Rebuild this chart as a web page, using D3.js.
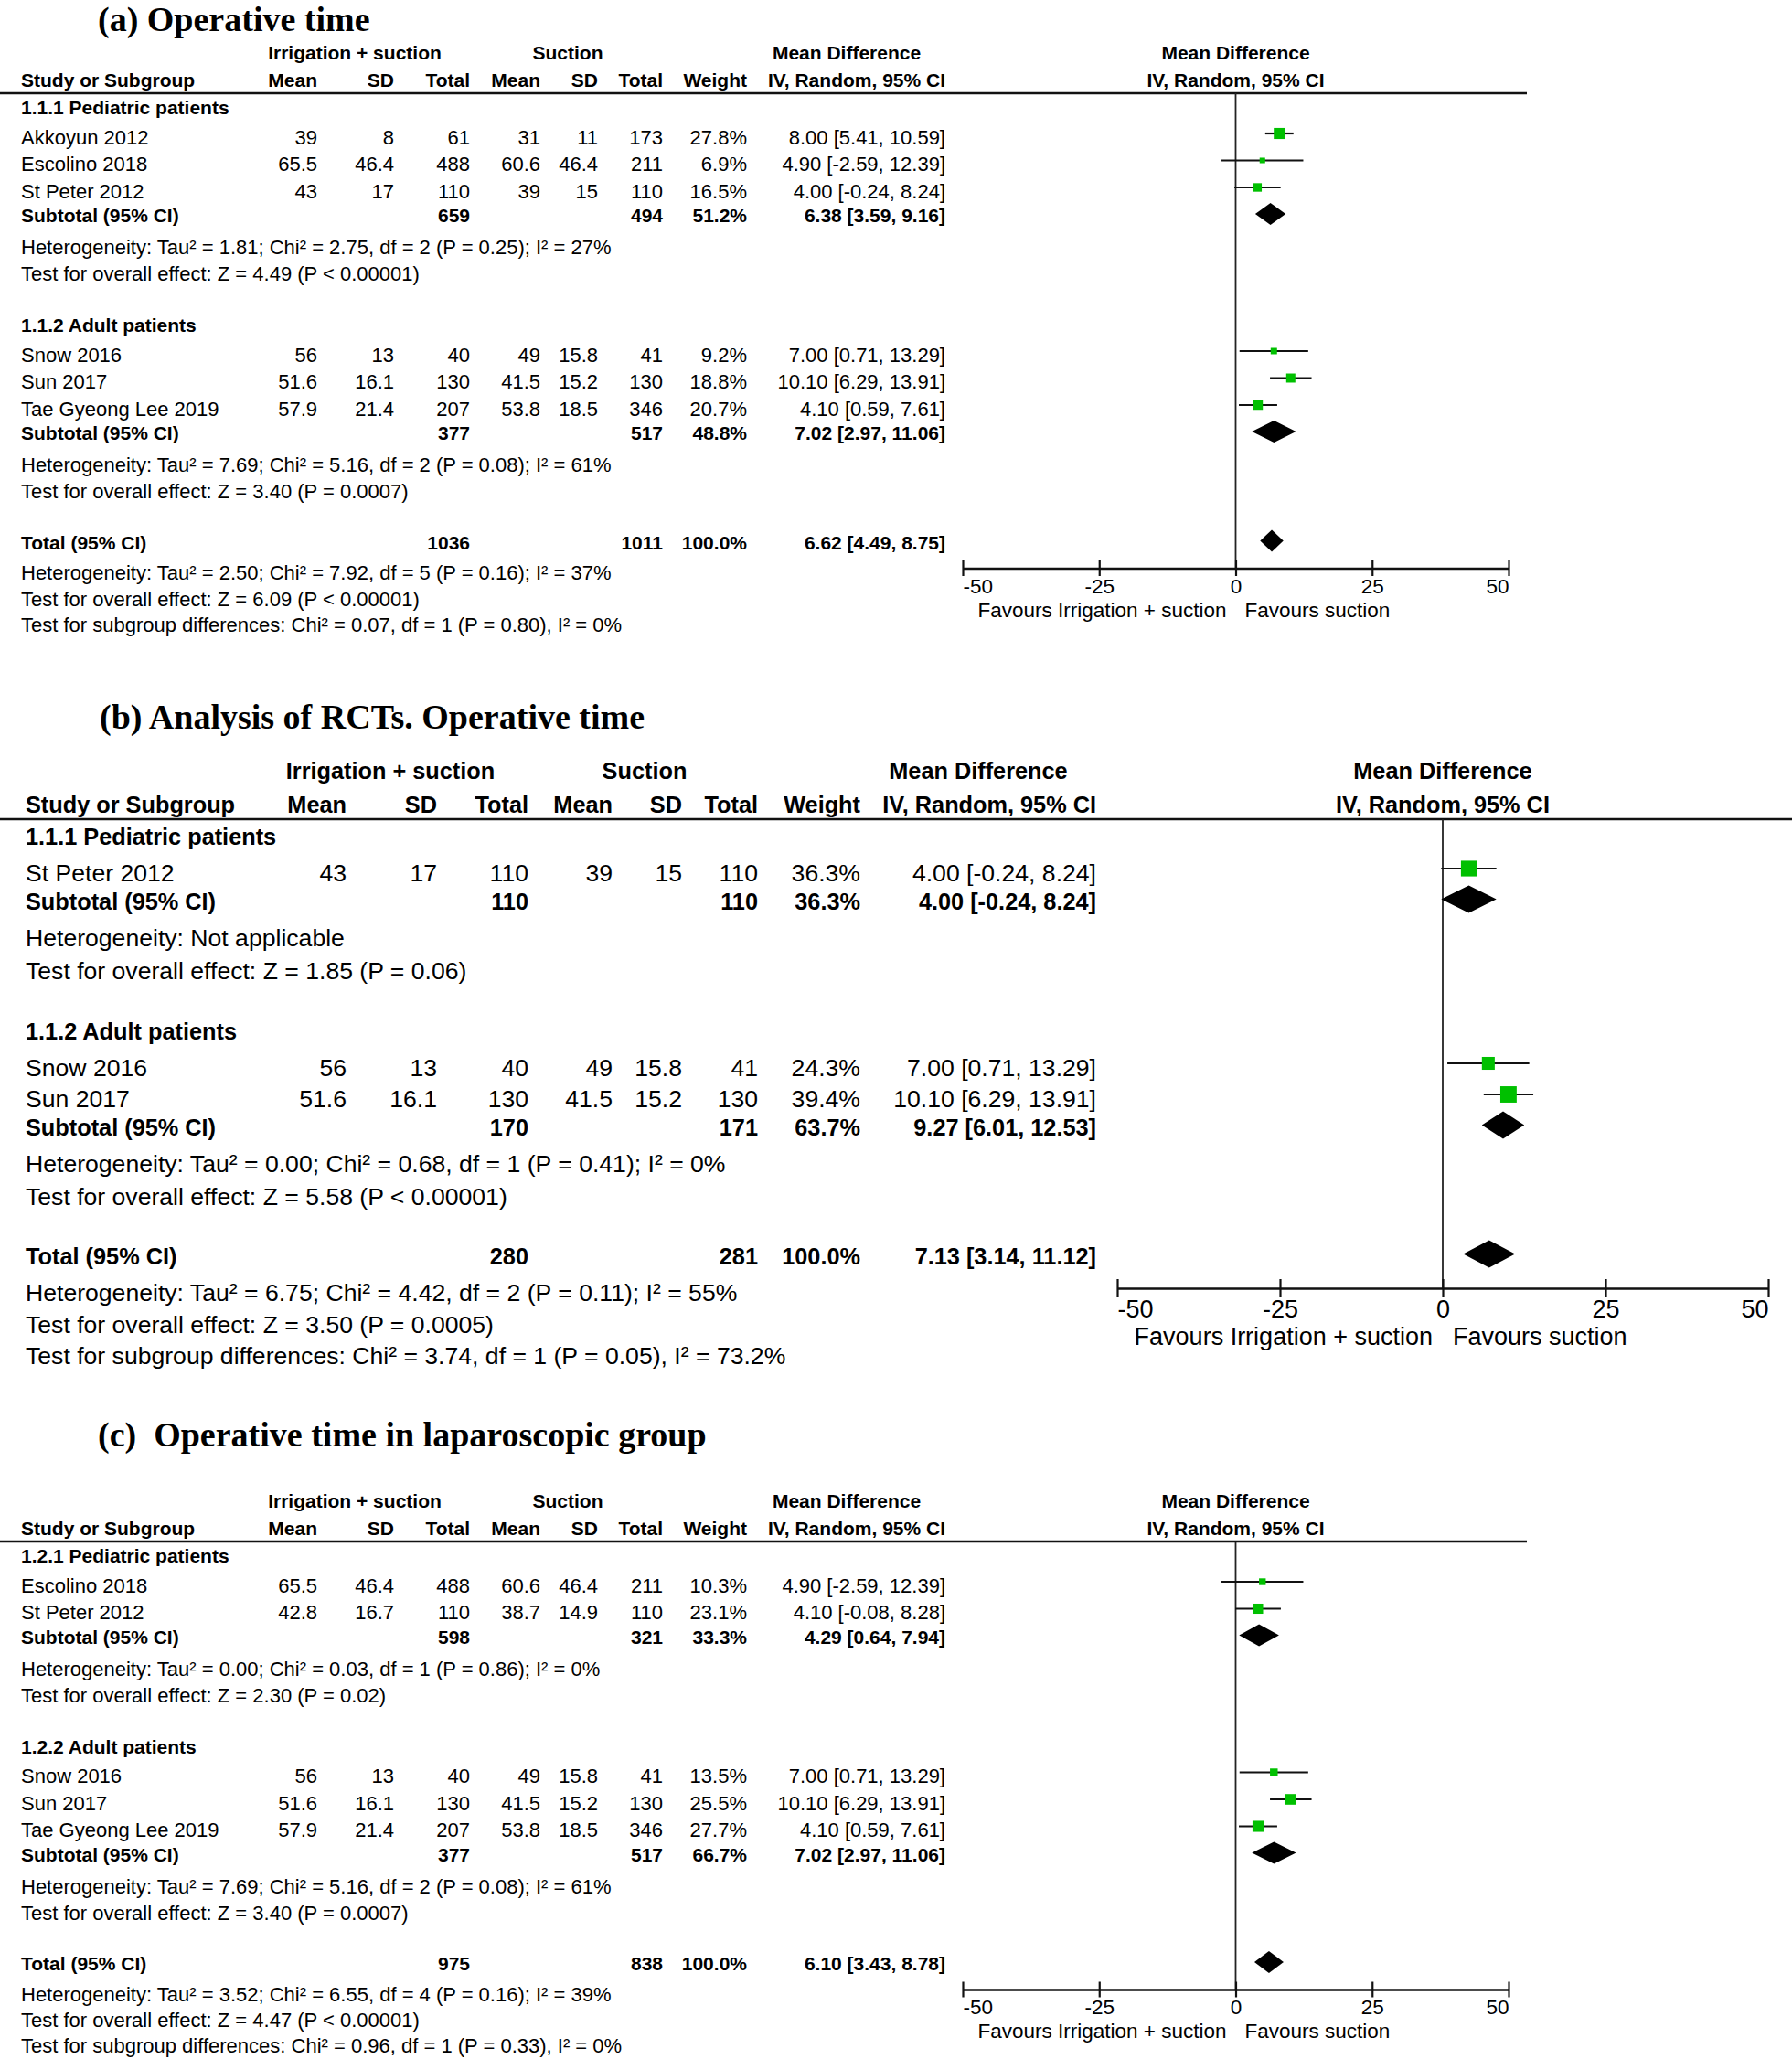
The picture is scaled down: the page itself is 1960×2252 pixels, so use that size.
<!DOCTYPE html>
<html><head><meta charset="utf-8">
<script src="https://cdn.jsdelivr.net/npm/d3@7"></script>
<style>body{margin:0;background:#fff}svg{display:block}</style>
</head><body>
<svg id="chart" width="1960" height="2252"></svg>
<script>
// ---------------- DATA ----------------
const colHeads = ["Mean","SD","Total","Mean","SD","Total","Weight","IV, Random, 95% CI"];
const tickValues = [-50,-25,0,25,50];

// Panel (a)
const titleA = "(a) Operative time";
const studiesA = ["Akkoyun 2012","Escolino 2018","St Peter 2012","Snow 2016","Sun 2017","Tae Gyeong Lee 2019"];
const groupOfA = [0,0,0,1,1,1];
const meanIS_A = [39,65.5,43,56,51.6,57.9];
const sdIS_A   = [8,46.4,17,13,16.1,21.4];
const nIS_A    = [61,488,110,40,130,207];
const meanS_A  = [31,60.6,39,49,41.5,53.8];
const sdS_A    = [11,46.4,15,15.8,15.2,18.5];
const nS_A     = [173,211,110,41,130,346];
const weightA  = [27.8,6.9,16.5,9.2,18.8,20.7];
const mdA      = [8.00,4.90,4.00,7.00,10.10,4.10];
const loA      = [5.41,-2.59,-0.24,0.71,6.29,0.59];
const hiA      = [10.59,12.39,8.24,13.29,13.91,7.61];
const subNamesA = ["1.1.1 Pediatric patients","1.1.2 Adult patients"];
const subNIS_A = [659,377], subNS_A = [494,517], subWA = [51.2,48.8];
const subMdA = [6.38,7.02], subLoA = [3.59,2.97], subHiA = [9.16,11.06];
const subHetA = ["Heterogeneity: Tau\u00b2 = 1.81; Chi\u00b2 = 2.75, df = 2 (P = 0.25); I\u00b2 = 27%",
                 "Heterogeneity: Tau\u00b2 = 7.69; Chi\u00b2 = 5.16, df = 2 (P = 0.08); I\u00b2 = 61%"];
const subTestA = ["Test for overall effect: Z = 4.49 (P < 0.00001)","Test for overall effect: Z = 3.40 (P = 0.0007)"];
const totA = {nIS:1036, nS:1011, w:100.0, md:6.62, lo:4.49, hi:8.75,
  het:"Heterogeneity: Tau\u00b2 = 2.50; Chi\u00b2 = 7.92, df = 5 (P = 0.16); I\u00b2 = 37%",
  test:"Test for overall effect: Z = 6.09 (P < 0.00001)",
  sub:"Test for subgroup differences: Chi\u00b2 = 0.07, df = 1 (P = 0.80), I\u00b2 = 0%"};

// Panel (b)
const titleB = "(b) Analysis of RCTs. Operative time";
const studiesB = ["St Peter 2012","Snow 2016","Sun 2017"];
const groupOfB = [0,1,1];
const meanIS_B = [43,56,51.6];
const sdIS_B   = [17,13,16.1];
const nIS_B    = [110,40,130];
const meanS_B  = [39,49,41.5];
const sdS_B    = [15,15.8,15.2];
const nS_B     = [110,41,130];
const weightB  = [36.3,24.3,39.4];
const mdB      = [4.00,7.00,10.10];
const loB      = [-0.24,0.71,6.29];
const hiB      = [8.24,13.29,13.91];
const subNamesB = ["1.1.1 Pediatric patients","1.1.2 Adult patients"];
const subNIS_B = [110,170], subNS_B = [110,171], subWB = [36.3,63.7];
const subMdB = [4.00,9.27], subLoB = [-0.24,6.01], subHiB = [8.24,12.53];
const subHetB = ["Heterogeneity: Not applicable",
                 "Heterogeneity: Tau\u00b2 = 0.00; Chi\u00b2 = 0.68, df = 1 (P = 0.41); I\u00b2 = 0%"];
const subTestB = ["Test for overall effect: Z = 1.85 (P = 0.06)","Test for overall effect: Z = 5.58 (P < 0.00001)"];
const totB = {nIS:280, nS:281, w:100.0, md:7.13, lo:3.14, hi:11.12,
  het:"Heterogeneity: Tau\u00b2 = 6.75; Chi\u00b2 = 4.42, df = 2 (P = 0.11); I\u00b2 = 55%",
  test:"Test for overall effect: Z = 3.50 (P = 0.0005)",
  sub:"Test for subgroup differences: Chi\u00b2 = 3.74, df = 1 (P = 0.05), I\u00b2 = 73.2%"};

// Panel (c)
const titleC = "(c)\u00a0\u00a0Operative time in laparoscopic group";
const studiesC = ["Escolino 2018","St Peter 2012","Snow 2016","Sun 2017","Tae Gyeong Lee 2019"];
const groupOfC = [0,0,1,1,1];
const meanIS_C = [65.5,42.8,56,51.6,57.9];
const sdIS_C   = [46.4,16.7,13,16.1,21.4];
const nIS_C    = [488,110,40,130,207];
const meanS_C  = [60.6,38.7,49,41.5,53.8];
const sdS_C    = [46.4,14.9,15.8,15.2,18.5];
const nS_C     = [211,110,41,130,346];
const weightC  = [10.3,23.1,13.5,25.5,27.7];
const mdC      = [4.90,4.10,7.00,10.10,4.10];
const loC      = [-2.59,-0.08,0.71,6.29,0.59];
const hiC      = [12.39,8.28,13.29,13.91,7.61];
const subNamesC = ["1.2.1 Pediatric patients","1.2.2 Adult patients"];
const subNIS_C = [598,377], subNS_C = [321,517], subWC = [33.3,66.7];
const subMdC = [4.29,7.02], subLoC = [0.64,2.97], subHiC = [7.94,11.06];
const subHetC = ["Heterogeneity: Tau\u00b2 = 0.00; Chi\u00b2 = 0.03, df = 1 (P = 0.86); I\u00b2 = 0%",
                 "Heterogeneity: Tau\u00b2 = 7.69; Chi\u00b2 = 5.16, df = 2 (P = 0.08); I\u00b2 = 61%"];
const subTestC = ["Test for overall effect: Z = 2.30 (P = 0.02)","Test for overall effect: Z = 3.40 (P = 0.0007)"];
const totC = {nIS:975, nS:838, w:100.0, md:6.10, lo:3.43, hi:8.78,
  het:"Heterogeneity: Tau\u00b2 = 3.52; Chi\u00b2 = 6.55, df = 4 (P = 0.16); I\u00b2 = 39%",
  test:"Test for overall effect: Z = 4.47 (P < 0.00001)",
  sub:"Test for subgroup differences: Chi\u00b2 = 0.96, df = 1 (P = 0.33), I\u00b2 = 0%"};

// ---------------- LAYOUT ----------------
const SMALL = {fsReg:22, fsBold:21, fsAxis:22.5,
  cols:[347,431,514,591,654,725,817,1034], study:23,
  h1x:[388,621,926], lineEnd:1670, xr:[1053,1650],
  h2:30, line:44, g1:60, ghToStudy:32, studyStep:29.5, studyToSub:27, subToHet:34.5,
  hetToTest:29, testToGroup:56.5, testToTotal:56, totalToHet:33, hetToTest2:28.5, testToSubg:28,
  axisOff:28, tickLab:27, favLab:53, tick:8.5, sqK:2.3, diaH:24, markOff:-4, favGap:10};
const LARGE = {fsReg:26.6, fsBold:25.3, fsAxis:27,
  cols:[379,478,578,670,746,829,941,1199], study:28,
  h1x:[427,705,1070], lineEnd:1960, xr:[1222,1934],
  h2:37, line:53, g1:72, ghToStudy:40, studyStep:34, studyToSub:31, subToHet:39.5,
  hetToTest:36.5, testToGroup:66, testToTotal:65, totalToHet:40, hetToTest2:35, testToSubg:34,
  axisOff:35, tickLab:32, favLab:62, tick:10, sqK:2.85, diaH:30, markOff:-5, favGap:11};

const svg = d3.select("#chart");
const SANS = "'Liberation Sans', Arial, sans-serif";
const SERIF = "'Liberation Serif', 'Times New Roman', serif";
const ciStr = (m,l,h) => `${m.toFixed(2)} [${l.toFixed(2)}, ${h.toFixed(2)}]`;

function drawPanel(cfg){
  const L = cfg.L;
  const g = svg.append("g").attr("font-family", SANS).attr("fill","#000");
  g.append("text").attr("x", cfg.titleX).attr("y", cfg.titleY)
    .attr("font-family", SERIF).attr("font-weight","bold").attr("font-size",38).text(cfg.title);

  const x = d3.scaleLinear().domain([-50,50]).range(L.xr);
  const txt = (xx, yc, s, bold, anchor) => g.append("text")
    .attr("x", xx).attr("y", yc + 0.35*(bold?L.fsBold:L.fsReg))
    .attr("text-anchor", anchor||"end")
    .attr("font-weight", bold?"bold":"normal")
    .attr("font-size", bold?L.fsBold:L.fsReg).text(s);

  const H1 = cfg.h1Y, H2 = H1 + L.h2, lineY = H1 + L.line;
  txt(L.h1x[0], H1, "Irrigation + suction", true, "middle");
  txt(L.h1x[1], H1, "Suction", true, "middle");
  txt(L.h1x[2], H1, "Mean Difference", true, "middle");
  txt(x(0), H1, "Mean Difference", true, "middle");
  txt(L.study, H2, "Study or Subgroup", true, "start");
  colHeads.forEach((h,i) => txt(L.cols[i], H2, h, true, "end"));
  txt(x(0), H2, "IV, Random, 95% CI", true, "middle");
  g.append("line").attr("x1",0).attr("x2",L.lineEnd).attr("y1",lineY).attr("y2",lineY)
    .attr("stroke","#111").attr("stroke-width",2.6);

  const marks = [];
  let y = H1 + L.g1;
  cfg.subNames.forEach((name, gi) => {
    if (gi > 0) y += L.testToGroup;
    txt(L.study, y, name, true, "start");
    const idx = cfg.groupOf.map((v,i)=> v===gi ? i : -1).filter(i=>i>=0);
    idx.forEach((i,k) => {
      y += (k===0) ? L.ghToStudy : L.studyStep;
      txt(L.study, y, cfg.studies[i], false, "start");
      const vals = [cfg.meanIS[i], cfg.sdIS[i], cfg.nIS[i], cfg.meanS[i], cfg.sdS[i], cfg.nS[i],
                    cfg.weight[i].toFixed(1)+"%", ciStr(cfg.md[i], cfg.lo[i], cfg.hi[i])];
      vals.forEach((v,c) => txt(L.cols[c], y, String(v), false, "end"));
      marks.push({type:"sq", y:y+L.markOff, md:cfg.md[i], lo:cfg.lo[i], hi:cfg.hi[i], w:cfg.weight[i]});
    });
    y += L.studyToSub;
    txt(L.study, y, "Subtotal (95% CI)", true, "start");
    txt(L.cols[2], y, String(cfg.subNIS[gi]), true);
    txt(L.cols[5], y, String(cfg.subNS[gi]), true);
    txt(L.cols[6], y, cfg.subW[gi].toFixed(1)+"%", true);
    txt(L.cols[7], y, ciStr(cfg.subMd[gi], cfg.subLo[gi], cfg.subHi[gi]), true);
    marks.push({type:"dia", y:y+L.markOff/2, md:cfg.subMd[gi], lo:cfg.subLo[gi], hi:cfg.subHi[gi]});
    y += L.subToHet;
    txt(L.study, y, cfg.subHet[gi], false, "start");
    y += L.hetToTest;
    txt(L.study, y, cfg.subTest[gi], false, "start");
  });
  y += L.testToTotal;
  const totalY = y, T = cfg.tot;
  txt(L.study, y, "Total (95% CI)", true, "start");
  txt(L.cols[2], y, String(T.nIS), true);
  txt(L.cols[5], y, String(T.nS), true);
  txt(L.cols[6], y, T.w.toFixed(1)+"%", true);
  txt(L.cols[7], y, ciStr(T.md, T.lo, T.hi), true);
  marks.push({type:"dia", y:y+L.markOff/2, md:T.md, lo:T.lo, hi:T.hi});
  y += L.totalToHet; txt(L.study, y, T.het, false, "start");
  y += L.hetToTest2; txt(L.study, y, T.test, false, "start");
  y += L.testToSubg; txt(L.study, y, T.sub, false, "start");

  // axis
  const axisY = totalY + L.axisOff;
  g.append("line").attr("x1", x(0)).attr("x2", x(0)).attr("y1", lineY).attr("y2", axisY)
    .attr("stroke","#222").attr("stroke-width",1.8);
  const ax = g.append("g").attr("transform", `translate(0,${axisY})`)
    .call(d3.axisBottom(x).tickValues(tickValues).tickFormat(d => String(d)).tickSizeOuter(0).tickSizeInner(L.tick));
  ax.select(".domain").attr("stroke","#111").attr("stroke-width",2.6);
  ax.selectAll(".tick line").attr("y1",-L.tick).attr("y2",L.tick).attr("stroke","#111").attr("stroke-width",2.2);
  ax.selectAll(".tick text").attr("y", L.tickLab).attr("dy",null)
    .attr("font-family", SANS).attr("font-size", L.fsAxis).attr("fill","#000")
    .attr("text-anchor", d => d===-50 ? "start" : d===50 ? "end" : "middle");
  g.append("text").attr("x", x(0)-L.favGap).attr("y", axisY+L.favLab).attr("text-anchor","end")
    .attr("font-size", L.fsAxis).text("Favours Irrigation + suction");
  g.append("text").attr("x", x(0)+L.favGap).attr("y", axisY+L.favLab).attr("text-anchor","start")
    .attr("font-size", L.fsAxis).text("Favours suction");

  // marks
  marks.forEach(m => {
    if (m.type === "sq"){
      g.append("line").attr("x1", x(m.lo)).attr("x2", x(m.hi)).attr("y1", m.y).attr("y2", m.y)
        .attr("stroke","#111").attr("stroke-width",2.2);
      const s = L.sqK*Math.sqrt(m.w);
      g.append("rect").attr("x", x(m.md)-s/2).attr("y", m.y-s/2).attr("width", s).attr("height", s)
        .attr("fill","#00c000");
    } else {
      const h = L.diaH/2;
      g.append("path").attr("d", `M${x(m.lo)},${m.y}L${x(m.md)},${m.y-h}L${x(m.hi)},${m.y}L${x(m.md)},${m.y+h}Z`)
        .attr("fill","#000");
    }
  });
}

drawPanel({L:SMALL, title:titleA, titleX:107, titleY:34, h1Y:58,
  studies:studiesA, groupOf:groupOfA, meanIS:meanIS_A, sdIS:sdIS_A, nIS:nIS_A, meanS:meanS_A, sdS:sdS_A, nS:nS_A,
  weight:weightA, md:mdA, lo:loA, hi:hiA, subNames:subNamesA, subNIS:subNIS_A, subNS:subNS_A, subW:subWA,
  subMd:subMdA, subLo:subLoA, subHi:subHiA, subHet:subHetA, subTest:subTestA, tot:totA});
drawPanel({L:LARGE, title:titleB, titleX:109, titleY:797, h1Y:843,
  studies:studiesB, groupOf:groupOfB, meanIS:meanIS_B, sdIS:sdIS_B, nIS:nIS_B, meanS:meanS_B, sdS:sdS_B, nS:nS_B,
  weight:weightB, md:mdB, lo:loB, hi:hiB, subNames:subNamesB, subNIS:subNIS_B, subNS:subNS_B, subW:subWB,
  subMd:subMdB, subLo:subLoB, subHi:subHiB, subHet:subHetB, subTest:subTestB, tot:totB});
drawPanel({L:SMALL, title:titleC, titleX:107, titleY:1582, h1Y:1642,
  studies:studiesC, groupOf:groupOfC, meanIS:meanIS_C, sdIS:sdIS_C, nIS:nIS_C, meanS:meanS_C, sdS:sdS_C, nS:nS_C,
  weight:weightC, md:mdC, lo:loC, hi:hiC, subNames:subNamesC, subNIS:subNIS_C, subNS:subNS_C, subW:subWC,
  subMd:subMdC, subLo:subLoC, subHi:subHiC, subHet:subHetC, subTest:subTestC, tot:totC});
</script>
</body></html>
